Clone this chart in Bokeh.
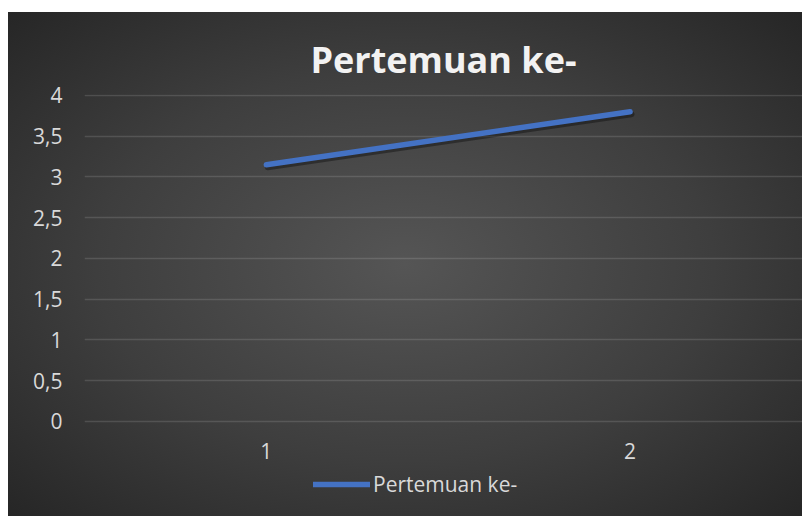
from bokeh.plotting import figure
from bokeh.models import (ColumnDataSource, FixedTicker, CustomJSTickFormatter,
                          Legend, LegendItem, Range1d)
from bokeh.transform import dodge
from bokeh.embed import file_html
from bokeh.resources import INLINE

# data
categories = [1, 2]
values = [3.15, 3.8]
series_name = "Pertemuan ke-"
y_ticks = [0, 0.5, 1, 1.5, 2, 2.5, 3, 3.5, 4]
title_text = "Pertemuan ke-"

src = ColumnDataSource(dict(x=categories, y=values))

p = figure(width=794, height=504, output_backend="svg", toolbar_location=None,
           x_range=Range1d(0.5, 2.474), y_range=Range1d(-1.1656, 4.012),
           min_border_left=76, min_border_right=0, min_border_top=82,
           min_border_bottom=0)
p.margin = (12, 0, 0, 8)
p.styles = {"background-image":
            "radial-gradient(ellipse farthest-corner at 50% 50%, #555555 0%, #3e3e3e 55%, #262626 100%)"}
p.background_fill_alpha = 0
p.border_fill_alpha = 0
p.outline_line_color = None

p.title.text = title_text
p.title.align = "center"
p.title.text_font = "Open Sans"
p.title.text_font_style = "bold"
p.title.text_font_size = "36px"
p.title.text_color = "#F2F2F2"
p.title.standoff = 22

for ax in (p.xaxis[0], p.yaxis[0]):
    ax.axis_line_color = None
    ax.major_tick_line_color = None
    ax.minor_tick_line_color = None
    ax.major_tick_in = 0
    ax.major_tick_out = 0
    ax.major_label_text_font = "Open Sans"
    ax.major_label_text_font_size = "21px"
    ax.major_label_text_color = "#D9D9D9"

p.yaxis.ticker = FixedTicker(ticks=y_ticks)
p.yaxis.formatter = CustomJSTickFormatter(code="return tick.toString().replace('.', ',');")
p.yaxis.major_label_standoff = 22
p.xaxis.ticker = FixedTicker(ticks=categories)
p.xaxis.fixed_location = 0
p.xaxis.major_label_standoff = 22

p.xgrid.grid_line_color = None
p.ygrid.grid_line_color = "#FFFFFF"
p.ygrid.grid_line_alpha = 0.13
p.ygrid.grid_line_width = 1.5

# shadow
p.line(x=dodge("x", 0.004), y=dodge("y", -0.03),
       source=src, line_color="#000000", line_alpha=0.35, line_width=6,
       line_cap="round")
r = p.line("x", "y", source=src, line_color="#4472C4", line_width=5.5,
           line_cap="round", line_join="round")

legend = Legend(items=[LegendItem(label=series_name, renderers=[r])],
                orientation="horizontal", location=(229, 18),
                glyph_width=57, glyph_height=20, label_standoff=3,
                label_text_font="Open Sans", label_text_font_size="21px",
                label_text_color="#D9D9D9", background_fill_alpha=0,
                border_line_color=None, padding=0, margin=0)
p.add_layout(legend)

open("out.html", "w").write(file_html(p, INLINE))
